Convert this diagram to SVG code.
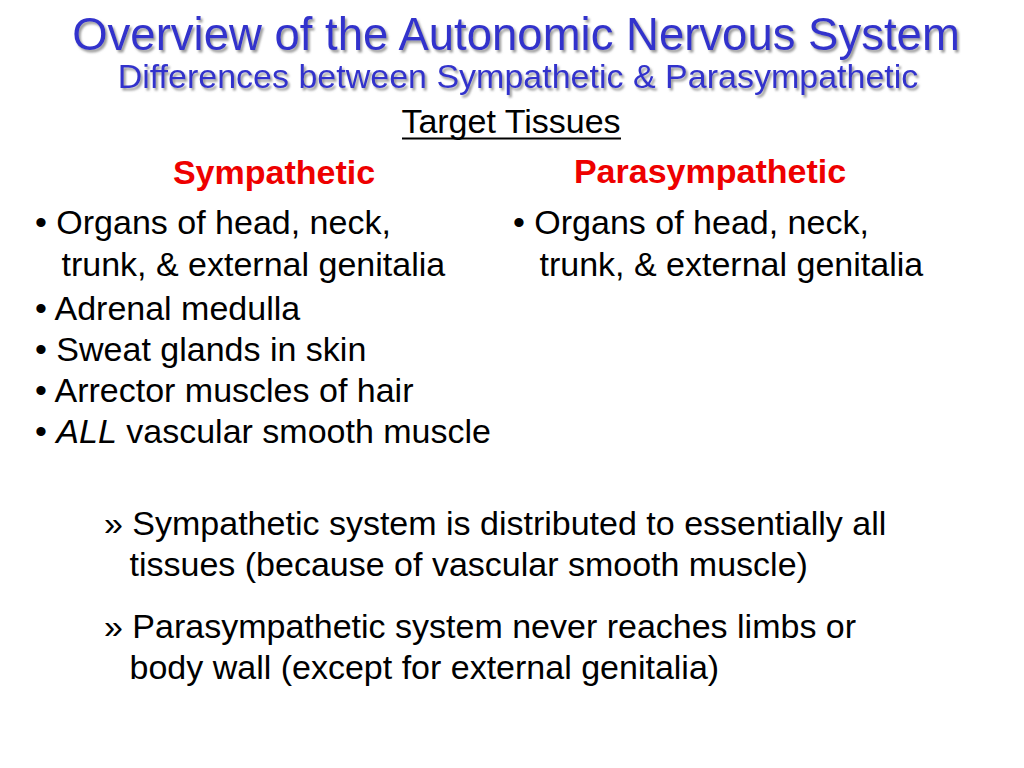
<svg xmlns="http://www.w3.org/2000/svg" width="1024" height="768" viewBox="0 0 1024 768">
<defs>
<filter id="shadow" x="-5%" y="-20%" width="110%" height="150%">
<feDropShadow dx="2" dy="2.5" stdDeviation="1.2" flood-color="#8a8a8a" flood-opacity="0.85"/>
</filter>
</defs>
<style>
text { font-family: "Liberation Sans", Arial, sans-serif; }
.title { fill: #3333cc; font-size: 45.5px; filter: url(#shadow); }
.sub { fill: #3333cc; font-size: 34px; filter: url(#shadow); }
.body { fill: #000000; font-size: 34px; }
.head { fill: #ee0000; font-size: 34px; font-weight: bold; }
</style>
<rect x="0" y="0" width="1024" height="768" fill="#ffffff"/>
<g id="title">
<text class="title" x="516" y="50" text-anchor="middle">Overview of the Autonomic Nervous System</text>
<text class="sub" x="518" y="88" text-anchor="middle">Differences between Sympathetic &amp; Parasympathetic</text>
</g>
<g id="target-tissues">
<text class="body" x="511" y="133" text-anchor="middle">Target Tissues</text>
<rect x="402" y="137.5" width="219" height="2" fill="#000000"/>
</g>
<g id="sympathetic">
<text class="head" x="274" y="184" text-anchor="middle">Sympathetic</text>
<text class="body" x="35" y="234">• Organs of head, neck,</text>
<text class="body" x="61.5" y="276">trunk, &amp; external genitalia</text>
<text class="body" x="35" y="319.5">• Adrenal medulla</text>
<text class="body" x="35" y="361">• Sweat glands in skin</text>
<text class="body" x="35" y="401.5">• Arrector muscles of hair</text>
<text class="body" x="35" y="443">• <tspan font-style="italic">ALL</tspan> vascular smooth muscle</text>
</g>
<g id="parasympathetic">
<text class="head" x="710" y="183" text-anchor="middle">Parasympathetic</text>
<text class="body" x="513" y="234">• Organs of head, neck,</text>
<text class="body" x="539.5" y="276">trunk, &amp; external genitalia</text>
</g>
<g id="notes">
<text class="body" x="104" y="535">» Sympathetic system is distributed to essentially all</text>
<text class="body" x="129.5" y="576">tissues (because of vascular smooth muscle)</text>
<text class="body" x="104" y="638">» Parasympathetic system never reaches limbs or</text>
<text class="body" x="129.5" y="679">body wall (except for external genitalia)</text>
</g>
</svg>
